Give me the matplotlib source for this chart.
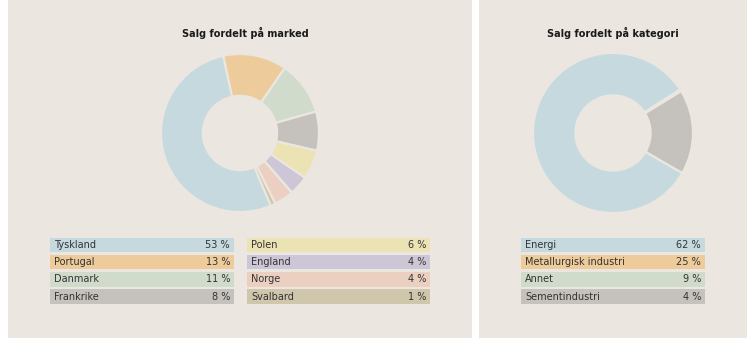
import matplotlib
matplotlib.use("Agg")
import matplotlib.pyplot as plt
from matplotlib.patches import Rectangle

plt.rcParams['font.family'] = ['Liberation Sans Narrow', 'DejaVu Sans']

# data
marked_navn = ["Tyskland", "Portugal", "Danmark", "Frankrike",
               "Polen", "England", "Norge", "Svalbard"]
marked_pst = [53, 13, 11, 8, 6, 4, 4, 1]
marked_farger = ["#c5d9df", "#eecb9b", "#d0dbcb", "#c5c2bd",
                 "#ece3b5", "#ccc6d6", "#ebd0c2", "#d0c6ab"]

kategori_navn = ["Energi", "Metallurgisk industri", "Annet", "Sementindustri"]
kategori_pst = [62, 25, 9, 4]
# verdiene slik ringen faktisk er tegnet i figuren
kategori_ring = [82.5, 0.4, 0, 17.1]
kategori_farger = ["#c5d9df", "#eecb9b", "#d0dbcb", "#c5c2bd"]

bg = "#ebe6e0"
W, H = 755, 338

fig = plt.figure(figsize=(W / 100, H / 100), dpi=100)
fig.patch.set_facecolor("white")

# bakgrunn i piksel-koordinater
base = fig.add_axes([0, 0, 1, 1])
base.set_xlim(0, W)
base.set_ylim(H, 0)
base.axis("off")
base.add_patch(Rectangle((8, 0), 464, H, color=bg, lw=0))
base.add_patch(Rectangle((479, 0), 268, H, color=bg, lw=0))

base.text(245, 33, "Salg fordelt på marked", ha="center", va="center",
          fontsize=7, fontweight="bold", color="#1a1a1a")
base.text(613, 33, "Salg fordelt på kategori", ha="center", va="center",
          fontsize=7, fontweight="bold", color="#1a1a1a")


def ring(cx, cy, r, verdier, farger, start):
    ax = fig.add_axes([(cx - r) / W, 1 - (cy + r) / H, 2 * r / W, 2 * r / H])
    ax.pie(verdier, colors=farger, startangle=start, counterclock=False,
           wedgeprops=dict(width=0.53, edgecolor=bg, linewidth=1.6))
    ax.set_xlim(-1, 1)
    ax.set_ylim(-1, 1)
    ax.set_aspect("equal")
    ax.axis("off")


ring(240, 133, 79, marked_pst, marked_farger, -67)
ring(613, 133, 80, kategori_ring, kategori_farger, -30)


def tabell(x0, x1, navn, pst, farger):
    for i in range(len(navn)):
        y = 237.5 + i * 17.3
        base.add_patch(Rectangle((x0, y), x1 - x0, 14.4, color=farger[i], lw=0))
        base.text(x0 + 4, y + 7.4, navn[i], ha="left", va="center",
                  fontsize=7, color="#333333")
        base.text(x1 - 4, y + 7.4, f"{pst[i]} %", ha="right", va="center",
                  fontsize=7, color="#333333")


tabell(50, 234, marked_navn[:4], marked_pst[:4], marked_farger[:4])
tabell(247, 430, marked_navn[4:], marked_pst[4:], marked_farger[4:])
tabell(521, 705, kategori_navn, kategori_pst, kategori_farger)

fig.savefig("out.png", dpi=100, facecolor=fig.get_facecolor())
